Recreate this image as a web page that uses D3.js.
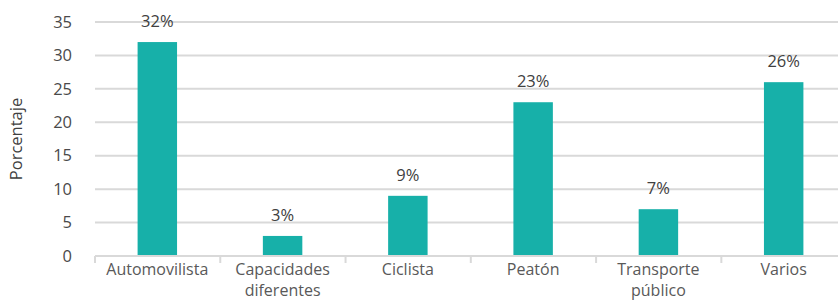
<!DOCTYPE html>
<html>
<head>
<meta charset="utf-8">
<script src="https://cdn.jsdelivr.net/npm/d3@7"></script>
<style>
  body { margin: 0; background: #fff; }
  text { font-family: "Open Sans", "Noto Sans", sans-serif; fill: #404040; }
</style>
</head>
<body>
<div id="chart"></div>
<script>
// categorias y valores (porcentaje)
const categories = ["Automovilista", "Capacidades\ndiferentes", "Ciclista", "Peatón", "Transporte\npúblico", "Varios"];
const values = [32, 3, 9, 23, 7, 26];
const yTicks = [0, 5, 10, 15, 20, 25, 30, 35];

const width = 838, height = 300;
const margin = { top: 22, left: 95, bottom: 44 };

const svg = d3.select('#chart').append('svg')
  .attr('width', width)
  .attr('height', height);

const xScale = d3.scaleBand()
  .domain(categories)
  .range([margin.left, 846])
  .paddingInner(0.685)
  .paddingOuter(0.34);

const yScale = d3.scaleLinear()
  .domain([0, 35])
  .range([height - margin.bottom, margin.top]);

// grid lines
svg.append('g')
  .selectAll('line')
  .data(yTicks.filter(d => d > 0))
  .join('line')
    .attr('x1', margin.left)
    .attr('x2', width)
    .attr('y1', d => yScale(d))
    .attr('y2', d => yScale(d))
    .attr('stroke', '#d9d9d9')
    .attr('stroke-width', 2);

// y tick labels
svg.append('g')
  .selectAll('text')
  .data(yTicks)
  .join('text')
    .attr('x', 72)
    .attr('y', d => yScale(d))
    .attr('dy', '0.35em')
    .attr('text-anchor', 'end')
    .attr('font-size', 16.5)
    .style('fill', '#4a4a4a')
    .text(d => d);

// y label
svg.append('text')
  .attr('transform', `translate(22, ${(yScale(0) + yScale(35)) / 2}) rotate(-90)`)
  .attr('text-anchor', 'middle')
  .attr('font-size', 16.5)
  .text('Porcentaje');

// bars
svg.append('g')
  .selectAll('rect')
  .data(values)
  .join('rect')
    .attr('x', (d, i) => xScale(categories[i]))
    .attr('y', d => yScale(d))
    .attr('width', xScale.bandwidth())
    .attr('height', d => yScale(0) - yScale(d))
    .attr('fill', '#17b0a9');

// value labels
svg.append('g')
  .selectAll('text')
  .data(values)
  .join('text')
    .attr('x', (d, i) => xScale(categories[i]) + xScale.bandwidth() / 2)
    .attr('y', d => yScale(d) - 15)
    .attr('text-anchor', 'middle')
    .attr('font-size', 16.5)
    .text(d => d + '%');

// x axis
const step = xScale.step();
const x0 = margin.left;
const axisY = yScale(0);
svg.append('line')
  .attr('x1', x0).attr('x2', width)
  .attr('y1', axisY).attr('y2', axisY)
  .attr('stroke', '#d9d9d9').attr('stroke-width', 2);

svg.append('g')
  .selectAll('line')
  .data(d3.range(categories.length + 1))
  .join('line')
    .attr('x1', i => x0 + i * step)
    .attr('x2', i => x0 + i * step)
    .attr('y1', axisY)
    .attr('y2', axisY + 7)
    .attr('stroke', '#d9d9d9')
    .attr('stroke-width', 2);

svg.append('g')
  .selectAll('text')
  .data(categories)
  .join('text')
    .attr('x', d => xScale(d) + xScale.bandwidth() / 2)
    .attr('y', axisY + 19)
    .attr('text-anchor', 'middle')
    .attr('font-size', 16)
    .style('fill', '#595959')
    .each(function(d) {
      const lines = d.split('\n');
      d3.select(this).selectAll('tspan')
        .data(lines)
        .join('tspan')
          .attr('x', d3.select(this).attr('x'))
          .attr('dy', (l, j) => j === 0 ? 0 : 21)
          .text(l => l);
    });
</script>
</body>
</html>
